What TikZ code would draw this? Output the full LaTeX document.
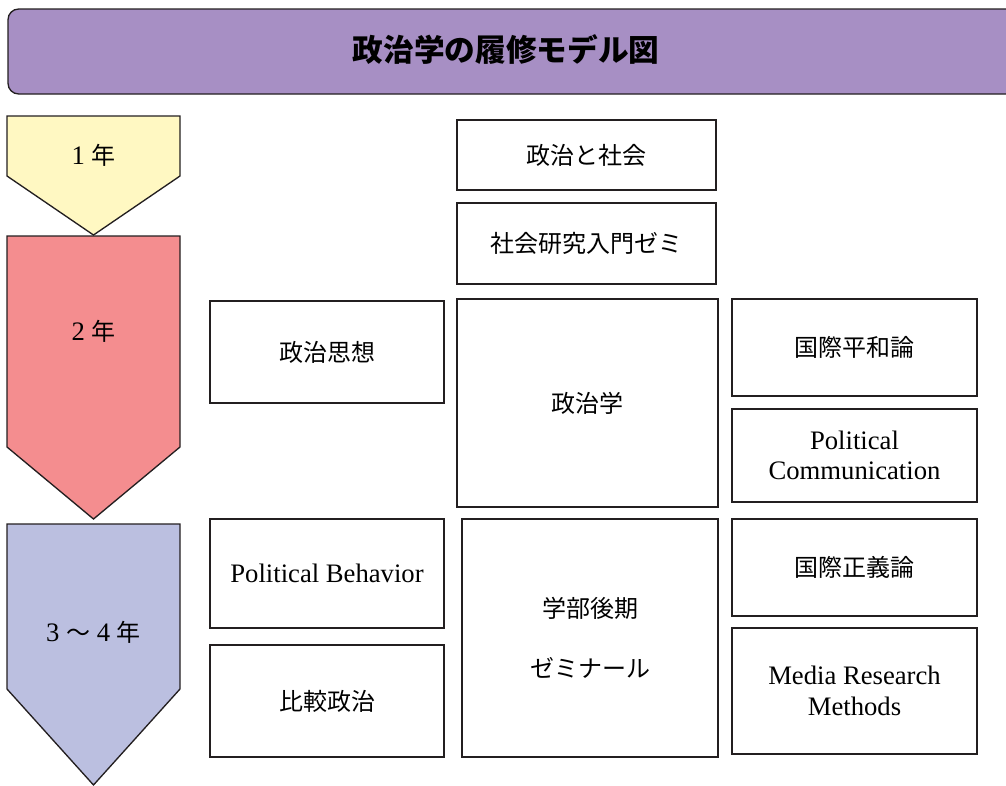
\documentclass[tikz,border=0pt]{standalone}
\usepackage{fontspec}
\setmainfont{Liberation Serif}
\newfontfamily\cjkfont{Noto Sans CJK JP}
\newcommand{\jtext}{\cjkfont\fontsize{18}{23}\selectfont}
\definecolor{titlePurple}{HTML}{A78FC4}
\definecolor{yearYellow}{HTML}{FFF8C2}
\definecolor{yearPink}{HTML}{F48D8F}
\definecolor{yearLavender}{HTML}{BBBFE0}
\definecolor{lineDark}{HTML}{231F20}
\begin{document}
\begin{tikzpicture}
[x=0.75pt,y=-0.75pt,
  boxDecorate/.style={draw=lineDark,line width=1pt,inner sep=0pt,align=center,
    font=\fontsize{20}{23}\selectfont},%
  yearDecorate/.style={draw=lineDark,line width=1pt,line join=miter},%
  labelDecorate/.style={font=\fontsize{20}{22}\selectfont}]
\useasboundingbox (0,0) rectangle (1006,785);
%% title bar
\draw[fill=titlePurple,draw=lineDark,line width=1pt,rounded corners=8pt]
  (1020,9) -- (8,9) -- (8,94) -- (1020,94) -- cycle;
\node (title) at (506,50) {\fontsize{23}{28}\selectfont\cjkfont\bfseries 政治学の履修モデル図};
%% year arrows
\foreach \yearname/\top/\shoulder/\tip/\labely/\col/\yeartext in {
  first/116/176/235/155/yearYellow/{1 {\jtext 年}},
  second/236/447/519/331/yearPink/{2 {\jtext 年}},
  later/524/689/785/632/yearLavender/{3 {\jtext 〜} 4 {\jtext 年}}}
{
  \draw[yearDecorate,fill=\col] (7,\top) -- (180,\top) -- (180,\shoulder)
    -- (93.5,\tip) -- (7,\shoulder) -- cycle;
  \node (\yearname) at (93.5,\labely) [labelDecorate] {\yeartext};
}
%% course boxes
\foreach \nodename/\x/\y/\w/\h/\course in {
  society/586.5/155/259/70/{\jtext 政治と社会},
  introzemi/586.5/243.5/259/81/{\jtext 社会研究入門ゼミ},
  thought/327/352/234/102/{\jtext 政治思想},
  politics/587.5/403/261/208/{\jtext 政治学},
  peace/854.5/347.5/245/97/{\jtext 国際平和論},
  polcomm/854.5/455.5/245/93/{Political\\Communication},
  behavior/327/573.5/234/109/{Political Behavior},
  comparative/327/701/234/112/{\jtext 比較政治},
  seminar/590/638/256/238/{{\jtext 学部後期}\\[22pt]{\jtext ゼミナール}},
  justice/854.5/567.5/245/97/{\jtext 国際正義論},
  media/854.5/691/245/126/{Media Research\\Methods}}
{
  \node (\nodename) at (\x,\y) [boxDecorate,minimum width=\w*0.75pt,
    minimum height=\h*0.75pt] {\course};
}
\end{tikzpicture}
\end{document}
